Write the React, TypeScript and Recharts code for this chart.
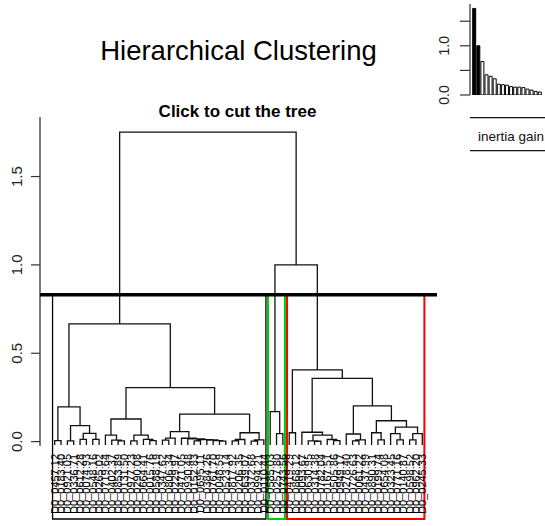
import React from "react";
import {
  ComposedChart,
  Line,
  Scatter,
  XAxis,
  YAxis,
  ReferenceLine,
  ReferenceArea,
  BarChart,
  Bar,
  Cell,
} from "recharts";

// node = leaf position, or [merge height, left, right]
type Node = number | [number, Node, Node];

const leafLabels = [
  "D0_0457.12", "D0_0183.40", "D0_0921.05", "D0_0336.71", "D0_0612.28", "D0_0074.93", "D0_0548.16", "D0_0265.02",
  "D0_0719.64", "D0_0402.37", "D0_0853.89", "D0_0131.50", "D0_0977.23", "D0_0290.08", "D0_0664.41", "D0_0015.76",
  "D0_0588.19", "D0_0347.62", "D0_0806.34", "D0_0229.97", "D0_0471.05", "D0_0930.48", "D0_0152.83", "D0_0695.11",
  "D0_0384.26", "D0_0761.70", "D0_0048.59", "D0_0523.14", "D0_0817.92", "D0_0206.35", "D0_0639.07", "D0_0372.68",
  "D0_0994.21", "D0_0110.44", "D0_0585.03", "D0_0257.80", "D0_0743.56", "D0_0419.29", "D0_0868.12", "D0_0093.67",
  "D0_0630.95", "D0_0314.38", "D0_0782.04", "D0_0167.51", "D0_0505.86", "D0_0949.17", "D0_0278.40", "D0_0726.63",
  "D0_0061.22", "D0_0437.99", "D0_0890.31", "D0_0199.74", "D0_0654.08", "D0_0323.45", "D0_0771.16", "D0_0140.87",
  "D0_0598.52", "D0_0962.20", "D0_0245.33",
];

// cluster 1 (black)
const blackLeft: Node = [0.196, [0.006, 1, 2], [0.09, [0.004, 3, 4], [0.047, [0.013, 5, 6], [0.013, 7, 8]]]];
const blackMidLeft: Node = [
  0.128,
  [0.037, 9, [0.008, 10, [0.004, 11, 12]]],
  [0.037, [0.004, 13, 14], [0.013, 15, [0.006, 16, 17]]],
];
const blackMidRight: Node = [
  0.156,
  [0.056, [0.02, [0.008, 18, 19], 20], [0.019, 21, [0.015, 22, [0.011, [0.004, 23, 24], [0.009, 25, [0.006, 26, [0.003, 27, 28]]]]]]],
  [0.05, [0.012, [0.004, 29, 30], 31], [0.01, [0.003, 32, 33], 34]],
];
const blackTree: Node = [0.666, blackLeft, [0.305, blackMidLeft, blackMidRight]];

// cluster 2 (green)
const greenTree: Node = [0.17, 35, [0.045, 36, 37]];

// cluster 3 (red)
const redLeft: Node = [0.053, 40, [0.037, [0.004, 41, [0.002, 42, 43]], [0.012, 44, [0.005, 45, 46]]]];
const redRight: Node = [
  0.202,
  [0.043, 47, [0.01, [0.004, 48, 49], 50]],
  [0.118, [0.05, 51, [0.01, 52, 53]], [0.082, [0.045, 54, [0.01, 55, 56]], [0.045, [0.01, 57, 58], 59]]],
];
const redTree: Node = [0.406, [0.05, 38, 39], [0.358, redLeft, redRight]];

const rootHeight = 1.751;
const rightHeight = 1.0;
const cutHeight = 0.831;

const clusterFirst = [1, 35, 38];
const clusterLast = [34, 37, 59];
const clusterColors = ["#000000", "#00CD00", "#FF0000"];

const inertiaGain = [1.76, 1.0, 0.68, 0.41, 0.38, 0.33, 0.22, 0.21, 0.2, 0.17, 0.16, 0.16, 0.15, 0.12, 0.1, 0.07, 0.06];
const nbClust = 3;

const FONT = "'Liberation Sans', Arial, Helvetica, sans-serif";

const nLeaves = leafLabels.length;
const xMin = 1 - 0.04 * (nLeaves - 1);
const xMax = nLeaves + 0.04 * (nLeaves - 1);
const yMin = -0.438;
const yMax = 1.837;
const leafBottom = -0.019;
const rectBottom = -0.438;

type Pt = { x: number; y: number | null };

function layout(node: Node, segs: Pt[]): { x: number; h: number } {
  if (typeof node === "number") return { x: node, h: leafBottom };
  const [h, l, r] = node;
  const L = layout(l, segs);
  const R = layout(r, segs);
  segs.push(
    { x: L.x, y: L.h },
    { x: L.x, y: h },
    { x: R.x, y: h },
    { x: R.x, y: R.h },
    { x: R.x, y: null }
  );
  return { x: (L.x + R.x) / 2, h };
}

const treeSegs: Pt[] = [];
layout([rootHeight, blackTree, [rightHeight, greenTree, redTree]], treeSegs);

const leafPoints = leafLabels.map((label, i) => ({ x: i + 1, y: leafBottom, label }));
const gainData = inertiaGain.map((gain, i) => ({ k: i + 1, gain }));

const MainTick = (props: any) => {
  const { x, y, payload } = props;
  return (
    <text
      transform={`translate(${x - 7.3},${y}) rotate(-90)`}
      textAnchor="middle"
      fontSize={15}
      fontFamily={FONT}
      fill="#222"
    >
      {Number(payload.value).toFixed(1)}
    </text>
  );
};

const InsetTick = (props: any) => {
  const { x, y, payload } = props;
  const v = Number(payload.value);
  if (v !== 0 && v !== 1) return <g />;
  return (
    <text
      transform={`translate(${x - 8.7},${y}) rotate(-90)`}
      textAnchor="middle"
      fontSize={14}
      fontFamily={FONT}
      fill="#222"
    >
      {v.toFixed(1)}
    </text>
  );
};

const LeafLabel = (props: any) => {
  const { cx, cy, payload } = props;
  return (
    <text
      transform={`translate(${cx + 4},${cy + 9}) rotate(-90)`}
      textAnchor="end"
      fontSize={11}
      fontFamily={FONT}
      fill="#000"
    >
      {payload.label}
    </text>
  );
};

export default function App() {
  return (
    <div style={{ position: "absolute", left: 0, top: 0, width: 545, height: 526, background: "#fff" }}>
      <ComposedChart
        width={545}
        height={526}
        margin={{ top: 117, right: 108, bottom: 7, left: 0 }}
      >
        <XAxis type="number" dataKey="x" domain={[xMin, xMax]} allowDataOverflow hide />
        <YAxis
          type="number"
          dataKey="y"
          domain={[yMin, yMax]}
          allowDataOverflow
          ticks={[0, 0.5, 1, 1.5]}
          width={40}
          axisLine={false}
          tickSize={9}
          tickLine={{ stroke: "#333", strokeWidth: 1.2 }}
          tick={<MainTick />}
        />
        <ReferenceLine
          segment={[{ x: xMin, y: -0.025 }, { x: xMin, y: yMax }]}
          stroke="#333"
          strokeWidth={1.3}
        />
        <Line
          data={treeSegs}
          dataKey="y"
          type="linear"
          stroke="#111"
          strokeWidth={1.3}
          dot={false}
          activeDot={false}
          isAnimationActive={false}
        />
        <Scatter data={leafPoints} dataKey="y" shape={<LeafLabel />} isAnimationActive={false} />
        <ReferenceLine y={cutHeight} stroke="#000" strokeWidth={3.3} />
        {clusterFirst.map((first, i) => (
          <ReferenceArea
            key={i}
            x1={first - 0.34}
            x2={clusterLast[i] + 0.33}
            y1={rectBottom}
            y2={cutHeight}
            stroke={clusterColors[i]}
            strokeWidth={i === 0 ? 1.3 : 2}
            fill="none"
            fillOpacity={0}
          />
        ))}
      </ComposedChart>

      <div style={{ position: "absolute", left: 420, top: 0 }}>
        <BarChart
          width={125}
          height={112}
          data={gainData}
          margin={{ top: 4, right: 1.3, bottom: 17, left: 0 }}
          barCategoryGap="17%"
        >
          <XAxis dataKey="k" hide padding={{ left: 2, right: 2 }} />
          <YAxis
            type="number"
            domain={[0, 1.85]}
            allowDataOverflow
            ticks={[0, 0.5, 1, 1.5]}
            width={50}
            axisLine={{ stroke: "#333", strokeWidth: 1.2 }}
            tickSize={10}
            tickLine={{ stroke: "#333", strokeWidth: 1.2 }}
            tick={<InsetTick />}
          />
          <Bar dataKey="gain" stroke="#000" strokeWidth={1} isAnimationActive={false}>
            {gainData.map((d, i) => (
              <Cell key={d.k} fill={i < nbClust - 1 ? "#000" : "#fff"} />
            ))}
          </Bar>
        </BarChart>
      </div>

      <svg
        width={545}
        height={526}
        style={{ position: "absolute", left: 0, top: 0, pointerEvents: "none" }}
      >
        <text x={238.5} y={60} textAnchor="middle" fontSize={27.5} fontFamily={FONT} fill="#000">
          Hierarchical Clustering
        </text>
        <text x={237.5} y={117} textAnchor="middle" fontSize={17} fontWeight="bold" fontFamily={FONT} fill="#000">
          Click to cut the tree
        </text>
        <line x1={470} x2={545} y1={117.7} y2={117.7} stroke="#111" strokeWidth={1.2} />
        <text x={511} y={141} textAnchor="middle" fontSize={13.5} fontFamily={FONT} fill="#111">
          inertia gain
        </text>
        <line x1={470} x2={545} y1={150.7} y2={150.7} stroke="#111" strokeWidth={1.2} />
      </svg>
    </div>
  );
}
